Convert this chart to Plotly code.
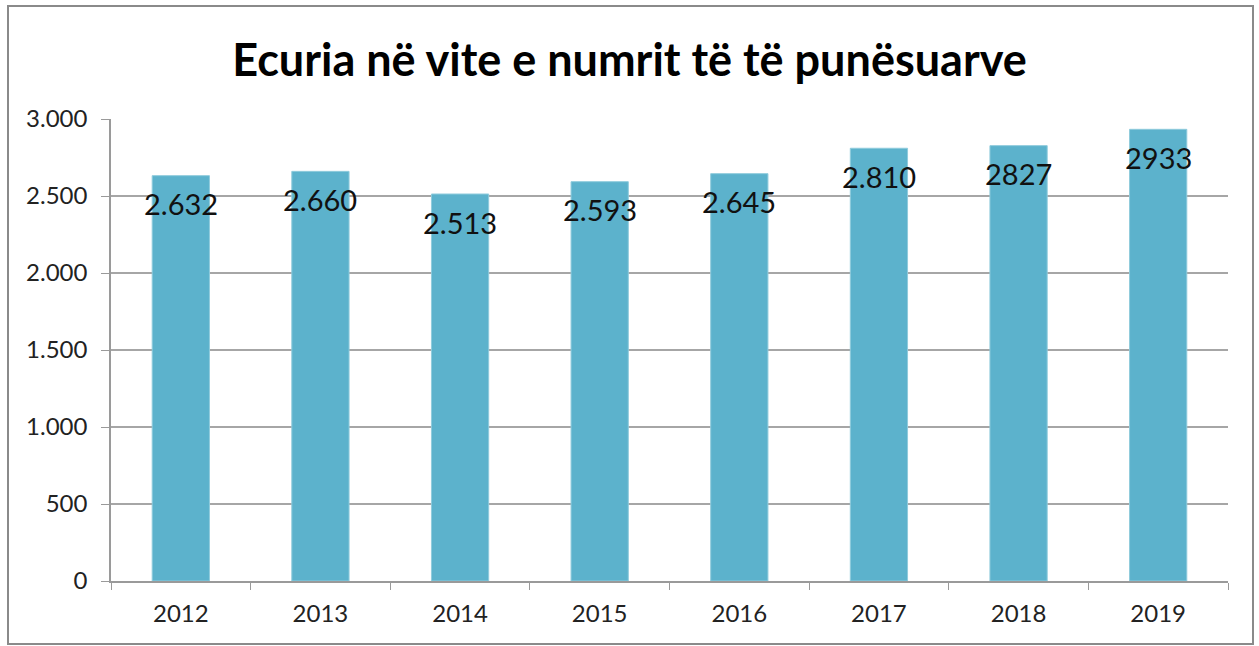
import plotly.graph_objects as go

years = ["2012", "2013", "2014", "2015", "2016", "2017", "2018", "2019"]
values = [2632, 2660, 2513, 2593, 2645, 2810, 2827, 2933]
labels = ["2.632", "2.660", "2.513", "2.593", "2.645", "2.810", "2827", "2933"]
y_ticks = [0, 500, 1000, 1500, 2000, 2500, 3000]
y_tick_text = ["0", "500", "1.000", "1.500", "2.000", "2.500", "3.000"]

W, H = 1259, 646
L, R, T, B = 111, 1228, 119, 581

fig = go.Figure()
fig.add_trace(go.Bar(
    x=years, y=values,
    marker=dict(color="#5cb2cc", line=dict(color="#8fcbdc", width=1)),
    hoverinfo="x+y",
))

for i, (v, t) in enumerate(zip(values, labels)):
    fig.add_annotation(x=i, y=v, text=t, showarrow=False, yshift=-28,
                       yanchor="middle", font=dict(family="Lato", size=29, color="#111"))

pw, ph = R - L, B - T
fig.add_shape(type="rect", xref="paper", yref="paper",
              x0=(8 - L) / pw, x1=(1253 - L) / pw,
              y0=(B - 644) / ph, y1=(B - 6) / ph,
              line=dict(color="#8a8a8a", width=2), fillcolor="rgba(0,0,0,0)", layer="below")

fig.update_layout(
    width=W, height=H,
    margin=dict(l=L, r=W - R, t=T, b=H - B),
    paper_bgcolor="white", plot_bgcolor="white",
    bargap=0.59,
    showlegend=False,
    title=dict(text="<b>Ecuria në vite e numrit të të punësuarve</b>",
               x=0.5, xanchor="center", y=1 - 60 / H, yanchor="middle",
               font=dict(family="Lato", size=45, color="#000")),
    font=dict(family="Lato", size=24, color="#222"),
)
fig.update_xaxes(type="category", showline=True, linecolor="#9a9a9a", linewidth=1.5,
                 ticks="outside", ticklen=7, tickcolor="#9a9a9a", tickson="boundaries",
                 showgrid=False, ticklabelstandoff=10, automargin=False, tickangle=0,
                 tickfont=dict(family="Lato", size=24, color="#222"))
fig.update_yaxes(range=[0, 3000], tickvals=y_ticks, ticktext=y_tick_text,
                 showline=True, linecolor="#9a9a9a", linewidth=1.5,
                 ticks="outside", ticklen=8, tickcolor="#9a9a9a",
                 showgrid=True, gridcolor="#a6a6a6", gridwidth=1.5,
                 zeroline=False, ticklabelstandoff=9, automargin=False,
                 tickfont=dict(family="Lato", size=24, color="#222"))

fig.write_html("out.html", config={"displayModeBar": False},
               post_script="document.body.style.margin='0';document.body.style.overflow='hidden';")
